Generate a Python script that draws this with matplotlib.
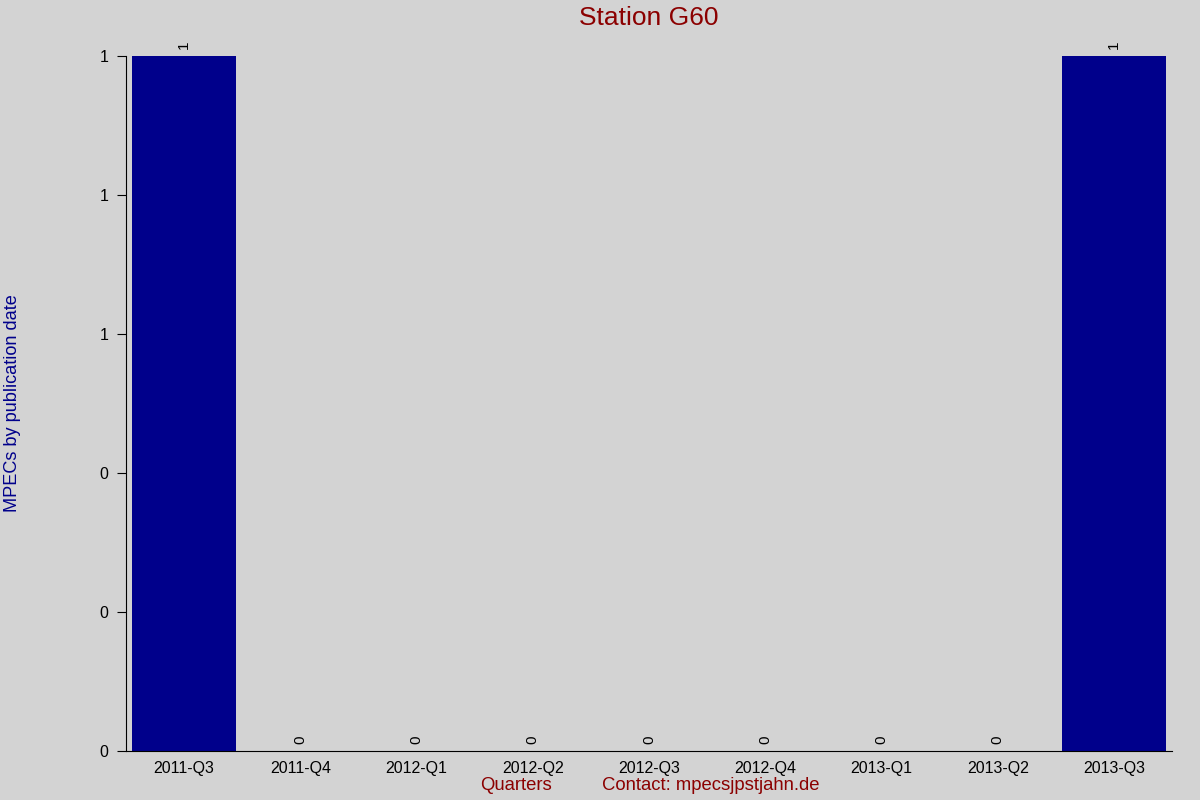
import matplotlib
matplotlib.use('Agg')
import matplotlib.pyplot as plt
from matplotlib.ticker import FuncFormatter

plt.rcParams['font.family'] = ['Liberation Sans', 'DejaVu Sans']

# data
quarters = ['2011-Q3', '2011-Q4', '2012-Q1', '2012-Q2', '2012-Q3',
            '2012-Q4', '2013-Q1', '2013-Q2', '2013-Q3']
mpecs = [1, 0, 0, 0, 0, 0, 0, 0, 1]

bg = '#d3d3d3'
fig = plt.figure(figsize=(12, 8), dpi=100, facecolor=bg)
ax = fig.add_axes([0.105, 0.06125, 0.8717, 0.86875], facecolor=bg)

x = range(len(quarters))
ax.bar(x, mpecs, width=0.9, color='#00008b')

# value labels above each bar
for i, v in zip(x, mpecs):
    ax.text(i, v + 0.01, str(v), rotation=90, ha='center', va='bottom', fontsize=11)

ax.set_xlim(-0.5, 8.5)
ax.set_ylim(0, 1)
ax.set_xticks(list(x))
ax.set_xticklabels(quarters, fontsize=11.5)
ax.set_yticks([0, 0.2, 0.4, 0.6, 0.8, 1.0])
ax.yaxis.set_major_formatter(FuncFormatter(lambda v, p: '%.0f' % (v + 1e-9)))
ax.tick_params(axis='y', labelsize=11.5, length=6.5, direction='out', pad=6)
ax.tick_params(axis='x', length=0, pad=7)

for s in ['top', 'right']:
    ax.spines[s].set_visible(False)

fig.text(0.5408, 0.977, 'Station G60', color='#8b0000', fontsize=19, ha='center', va='center')
fig.text(0.0105, 0.496, 'MPECs by publication date', rotation=90, color='#00008b',
         fontsize=13.1, ha='center', va='center')
fig.text(0.43, 0.0175, 'Quarters', color='#8b0000', fontsize=13.3, ha='center', va='center')
fig.text(0.592, 0.0175, 'Contact: mpecsjpstjahn.de', color='#8b0000', fontsize=13.3,
         ha='center', va='center')

fig.savefig('out.png', dpi=100, facecolor=bg)
